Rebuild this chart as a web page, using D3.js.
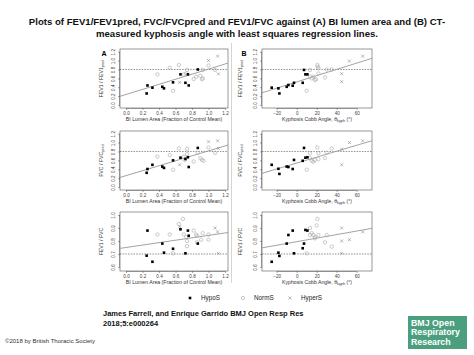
<!DOCTYPE html>
<html><head><meta charset="utf-8">
<script src="https://cdn.jsdelivr.net/npm/d3@7"></script>
<style>
body{margin:0;background:#fff;}
svg{display:block;font-family:"Liberation Sans",Arial,sans-serif;}
</style>
</head><body>
<svg id="c" width="474" height="355"></svg>
<script>
// ---------------- data ----------------
const titleLines = [
  "Plots of FEV1/FEV1pred, FVC/FVCpred and FEV1/FVC against (A) BI lumen area and (B) CT-",
  "measured kyphosis angle with least squares regression lines."
];
const groups = ["HypoS", "NormS", "HyperS"];
const xTicksBI = [0, 0.2, 0.4, 0.6, 0.8, 1.0, 1.2];
const xTicksCobb = [-20, 0, 20, 40, 60];
const yTicksPred = [0, 0.2, 0.4, 0.6, 0.8, 1.0, 1.2];
const yTicksRatio = [0.6, 0.7, 0.8, 0.9, 1.0];
const refLines = [0.8, 0.8, 0.7];

// [x, y, group]  H = HypoS, N = NormS, X = HyperS
const fev1pred_bi = [
  [0.25,0.26,"H"],[0.26,0.44,"H"],[0.32,0.39,"H"],[0.44,0.41,"H"],[0.46,0.375,"H"],[0.57,0.51,"H"],
  [0.66,0.69,"H"],[0.72,0.50,"H"],[0.75,0.69,"H"],[0.76,0.44,"H"],[0.87,0.80,"H"],
  [0.38,0.69,"N"],[0.53,0.84,"N"],[0.64,0.90,"N"],[0.57,0.32,"N"],[0.70,0.69,"N"],[0.73,0.71,"N"],
  [0.74,0.79,"N"],[0.82,0.585,"N"],[0.85,0.64,"N"],[0.90,0.66,"N"],[0.93,0.79,"N"],[0.93,0.60,"N"],
  [0.92,0.58,"N"],[1.00,0.89,"N"],[1.08,0.79,"N"],
  [1.12,0.70,"X"],[0.65,0.51,"X"],[1.00,1.00,"X"],[1.11,1.10,"X"]
];
const fev1pred_cobb = [
  [-25,0.39,"H"],[-18.3,0.375,"H"],[-17.3,0.26,"H"],[-10,0.41,"H"],[-8.3,0.45,"H"],[-4,0.435,"H"],
  [-2.7,0.50,"H"],[6,0.50,"H"],[7.3,0.79,"H"],[8.7,0.69,"H"],[10.7,0.69,"H"],
  [10,0.32,"N"],[13.3,0.64,"N"],[13.3,0.79,"N"],[15,0.60,"N"],[16.7,0.64,"N"],[18.3,0.56,"N"],
  [19.3,0.58,"N"],[20.7,0.90,"N"],[21,0.86,"N"],[21.7,0.825,"N"],[21.7,0.71,"N"],[28.3,0.62,"N"],
  [30,0.80,"N"],[35,0.80,"N"],
  [45,0.705,"X"],[45,0.525,"X"],[52.7,0.99,"X"],[66,1.10,"X"]
];
const fvcpred_bi = [
  [0.25,0.32,"H"],[0.26,0.405,"H"],[0.32,0.50,"H"],[0.44,0.46,"H"],[0.46,0.43,"H"],[0.57,0.60,"H"],
  [0.66,0.66,"H"],[0.72,0.63,"H"],[0.75,0.67,"H"],[0.76,0.45,"H"],[0.87,0.88,"H"],
  [0.38,0.685,"N"],[0.53,0.72,"N"],[0.64,0.87,"N"],[0.57,0.39,"N"],[0.70,0.685,"N"],[0.71,0.61,"N"],
  [0.74,0.86,"N"],[0.74,0.74,"N"],[0.82,0.575,"N"],[0.87,0.77,"N"],[0.90,0.65,"N"],[0.92,0.61,"N"],
  [0.94,0.59,"N"],[1.00,0.89,"N"],[1.08,0.77,"N"],
  [1.12,0.87,"X"],[0.65,0.50,"X"],[1.00,1.02,"X"],[1.11,1.04,"X"]
];
const fvcpred_cobb = [
  [-25,0.50,"H"],[-18.3,0.41,"H"],[-17.3,0.295,"H"],[-10,0.46,"H"],[-8.3,0.45,"H"],[-4,0.405,"H"],
  [-2.7,0.61,"H"],[6,0.59,"H"],[7.3,0.88,"H"],[8.7,0.66,"H"],[10.7,0.67,"H"],
  [10,0.39,"N"],[13.3,0.65,"N"],[13.3,0.76,"N"],[15,0.59,"N"],[16.7,0.57,"N"],[18.3,0.61,"N"],
  [20.7,0.89,"N"],[21.7,0.76,"N"],[21.7,0.63,"N"],[28.3,0.65,"N"],[30,0.77,"N"],[35,0.87,"N"],
  [45,0.85,"X"],[45,0.50,"X"],[52.7,1.00,"X"],[66,1.04,"X"]
];
const ratio_bi = [
  [0.26,0.88,"H"],[0.25,0.687,"H"],[0.32,0.64,"H"],[0.44,0.78,"H"],[0.46,0.71,"H"],[0.57,0.74,"H"],
  [0.66,0.89,"H"],[0.72,0.705,"H"],[0.75,0.88,"H"],[0.76,0.84,"H"],[0.87,0.78,"H"],
  [0.38,0.85,"N"],[0.53,0.85,"N"],[0.64,0.93,"N"],[0.57,0.705,"N"],[0.69,0.97,"N"],[0.70,0.85,"N"],
  [0.73,0.83,"N"],[0.74,0.80,"N"],[0.74,0.76,"N"],[0.82,0.88,"N"],[0.85,0.85,"N"],[0.86,0.84,"N"],
  [0.91,0.81,"N"],[0.93,0.86,"N"],[1.00,0.81,"N"],[1.00,0.85,"N"],[0.86,0.79,"N"],
  [1.12,0.705,"X"],[0.65,0.91,"X"],[1.08,0.90,"X"],[1.11,0.87,"X"]
];
const ratio_cobb = [
  [-25,0.64,"H"],[-18.3,0.71,"H"],[-17.3,0.685,"H"],[-10,0.78,"H"],[-8.3,0.846,"H"],[-4,0.88,"H"],
  [-2.7,0.705,"H"],[6,0.744,"H"],[7.3,0.78,"H"],[8.7,0.885,"H"],[10.7,0.88,"H"],
  [10,0.705,"N"],[13.3,0.90,"N"],[13.3,0.846,"N"],[15,0.86,"N"],[16.7,0.846,"N"],[18.3,0.82,"N"],
  [18.3,0.83,"N"],[20,0.92,"N"],[20.7,0.97,"N"],[21.7,0.846,"N"],[28.3,0.79,"N"],[30,0.846,"N"],
  [35,0.756,"N"],
  [45,0.90,"X"],[45,0.80,"X"],[45,0.705,"X"],[52.7,0.81,"X"],[66,0.87,"X"]
];
// least-squares lines [intercept, slope]
const regFev1pred = [[0.237, 0.572], [0.52, 0.00706]];
const regFvcpred  = [[0.256, 0.557], [0.539, 0.00668]];
const regRatio    = [[0.750, 0.093], [0.7945, 0.001367]];

// ---------------- layout ----------------
const svg = d3.select("#c");
const rowTop = [49, 131, 212], rowH = 59;
const colX = [[120, 228], [262, 372]];
const xDomains = [[-0.073, 1.236], [-34.7, 75.3]];
const yDomains = [[-0.0675, 1.261], [-0.0675, 1.261], [0.569, 1.023]];
const panelData = [[fev1pred_bi, fev1pred_cobb], [fvcpred_bi, fvcpred_cobb], [ratio_bi, ratio_cobb]];
const panelReg = [regFev1pred, regFvcpred, regRatio];
const yTitles = [["FEV1 / FEV1", "pred"], ["FVC / FVC", "pred"], ["FEV1 / FVC", ""]];
const tickFont = 4.6, labFont = 5.2;

// title
svg.selectAll("text.title").data(titleLines).join("text")
  .attr("x", 237).attr("y", (d, i) => 25 + i * 11.5)
  .attr("text-anchor", "middle").attr("font-weight", "bold").attr("font-size", 9.6)
  .attr("fill", "#111").text(d => d);

// divider
svg.append("line").attr("x1", 231.5).attr("x2", 231.5).attr("y1", 43).attr("y2", 283)
  .attr("stroke", "#d4d4d4").attr("stroke-width", 1);

// panel letters
svg.append("text").attr("x", 104).attr("y", 56).attr("text-anchor", "middle")
  .attr("font-weight", "bold").attr("font-size", 7).text("A");
svg.append("text").attr("x", 244).attr("y", 56).attr("text-anchor", "middle")
  .attr("font-weight", "bold").attr("font-size", 7).text("B");

function drawMarker(g, x, y, grp) {
  if (grp === "H") {
    g.append("rect").attr("x", x - 1.3).attr("y", y - 1.3).attr("width", 2.6).attr("height", 2.6).attr("fill", "#000");
  } else if (grp === "N") {
    g.append("circle").attr("cx", x).attr("cy", y).attr("r", 1.7).attr("fill", "none")
      .attr("stroke", "#a8a8a8").attr("stroke-width", 0.6);
  } else {
    const s = 1.5;
    g.append("path").attr("d", `M${x - s},${y - s}L${x + s},${y + s}M${x - s},${y + s}L${x + s},${y - s}`)
      .attr("stroke", "#888").attr("stroke-width", 0.6);
  }
}

for (let r = 0; r < 3; r++) {
  for (let c = 0; c < 2; c++) {
    const [x0, x1] = colX[c];
    const y0 = rowTop[r], y1 = rowTop[r] + rowH;
    const xs = d3.scaleLinear().domain(xDomains[c]).range([x0, x1]);
    const ys = d3.scaleLinear().domain(yDomains[r]).range([y1, y0]);
    const g = svg.append("g");

    // x axis
    const xt = c === 0 ? xTicksBI : xTicksCobb;
    const xa = g.append("g").attr("transform", `translate(0,${y1})`)
      .call(d3.axisBottom(xs).tickValues(xt).tickSize(2).tickPadding(1.5)
        .tickFormat(c === 0 ? d3.format(".1f") : d3.format("d")));
    xa.select(".domain").attr("d", `M${xs(xt[0])},0.5H${xs(xt[xt.length - 1])}`).attr("stroke", "#555").attr("stroke-width", 0.5);
    xa.selectAll(".tick line").attr("stroke", "#555").attr("stroke-width", 0.5);
    xa.selectAll("text").attr("font-size", tickFont).attr("fill", "#444").attr("font-family", "Liberation Sans, Arial, sans-serif");

    // y axis
    const yt = r === 2 ? yTicksRatio : yTicksPred;
    const ya = g.append("g").attr("transform", `translate(${x0},0)`)
      .call(d3.axisLeft(ys).tickValues(yt).tickSize(2).tickPadding(1.5).tickFormat(d3.format(".1f")));
    ya.select(".domain").attr("d", `M-0.5,${ys(yt[0])}V${ys(yt[yt.length - 1])}`).attr("stroke", "#555").attr("stroke-width", 0.5);
    ya.selectAll(".tick line").attr("stroke", "#555").attr("stroke-width", 0.5);
    ya.selectAll("text").attr("font-size", tickFont).attr("fill", "#444")
      .attr("font-family", "Liberation Sans, Arial, sans-serif")
      .attr("text-anchor", "middle").attr("x", 0).attr("dy", 0)
      .attr("transform", "translate(-5,0) rotate(-90)");

    // box
    g.append("rect").attr("x", x0).attr("y", y0).attr("width", x1 - x0).attr("height", rowH)
      .attr("fill", "none").attr("stroke", "#555").attr("stroke-width", 0.6);

    // reference dashed line
    g.append("line").attr("x1", x0).attr("x2", x1).attr("y1", ys(refLines[r])).attr("y2", ys(refLines[r]))
      .attr("stroke", "#444").attr("stroke-width", 0.6).attr("stroke-dasharray", "1.5,1.2");

    // regression line
    const [b0, b1] = panelReg[r][c];
    const xd = xDomains[c];
    g.append("line").attr("x1", xs(xd[0])).attr("y1", ys(b0 + b1 * xd[0]))
      .attr("x2", xs(xd[1])).attr("y2", ys(b0 + b1 * xd[1]))
      .attr("stroke", "#999").attr("stroke-width", 0.9);

    // points
    const pts = panelData[r][c];
    const order = { N: 0, X: 1, H: 2 };
    pts.slice().sort((a, b) => order[a[2]] - order[b[2]])
      .forEach(p => drawMarker(g, xs(p[0]), ys(p[1]), p[2]));

    // y title
    const yTitle = g.append("text").attr("font-size", labFont).attr("fill", "#333")
      .attr("text-anchor", "middle")
      .attr("transform", `translate(${x0 - (c === 0 ? 17 : 20)},${(y0 + y1) / 2}) rotate(-90)`);
    yTitle.append("tspan").text(yTitles[r][0]);
    if (yTitles[r][1]) yTitle.append("tspan").attr("font-size", 3.8).attr("dy", 1.3).text(yTitles[r][1]);

    // x title
    const xTitle = g.append("text").attr("x", (x0 + x1) / 2).attr("y", y1 + 13)
      .attr("font-size", labFont).attr("fill", "#333").attr("text-anchor", "middle");
    if (c === 0) {
      xTitle.text("BI Lumen Area (Fraction of Control Mean)");
    } else {
      xTitle.append("tspan").text("Kyphosis Cobb Angle, θ");
      xTitle.append("tspan").attr("font-size", 3.8).attr("dy", 1.3).text("kyph");
      xTitle.append("tspan").attr("dy", -1.3).text(" (°)");
    }
  }
}

// legend
const leg = svg.append("g").attr("transform", "translate(0,300)");
const legX = [190, 243, 290];
groups.forEach((name, i) => {
  drawMarker(leg, legX[i], -2, ["H", "N", "X"][i]);
  leg.append("text").attr("x", legX[i] + 11).attr("y", 0).attr("font-size", 6.3)
    .attr("fill", "#222").text(name);
});

// citation
svg.append("text").attr("x", 103).attr("y", 316).attr("font-weight", "bold").attr("font-size", 7.5)
  .attr("fill", "#111").text("James Farrell, and Enrique Garrido BMJ Open Resp Res");
svg.append("text").attr("x", 103).attr("y", 326).attr("font-weight", "bold").attr("font-size", 7.5)
  .attr("fill", "#111").text("2018;5:e000264");

// copyright
svg.append("text").attr("x", 5).attr("y", 343).attr("font-size", 6).attr("fill", "#333")
  .text("©2018 by British Thoracic Society");

// logo
svg.append("rect").attr("x", 408).attr("y", 316).attr("width", 59).attr("height", 33).attr("fill", "#4b9f7f");
["BMJ Open", "Respiratory", "Research"].forEach((t, i) => {
  svg.append("text").attr("x", 411).attr("y", 325.5 + i * 9.5).attr("font-size", 8.8)
    .attr("font-weight", "bold").attr("fill", "#fff").text(t);
});
</script>
</body></html>
